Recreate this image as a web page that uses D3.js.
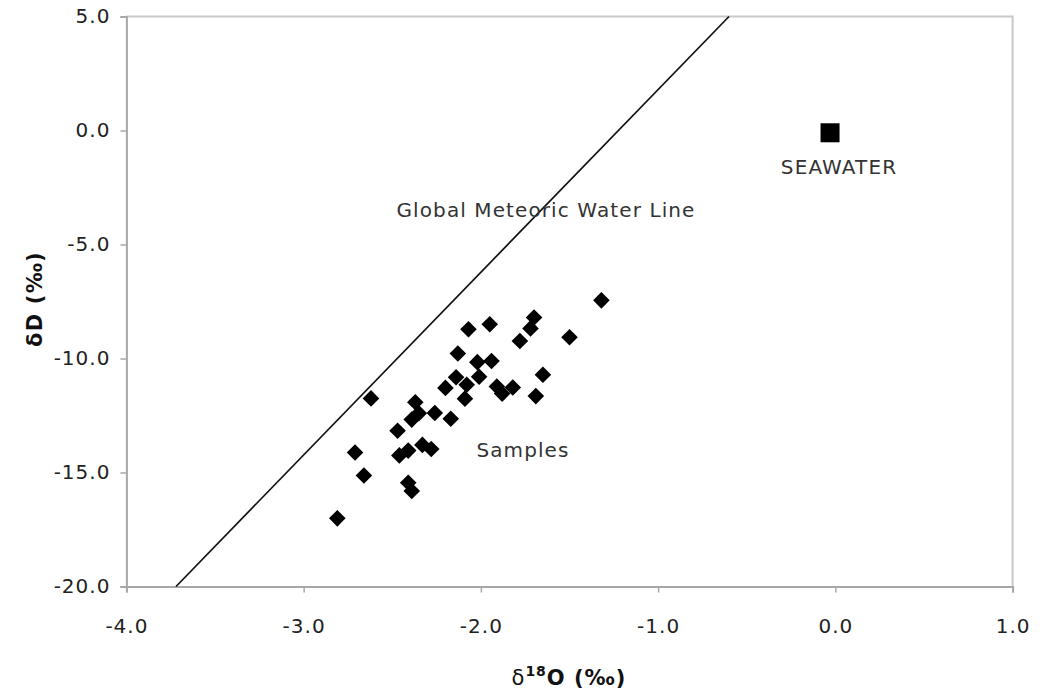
<!DOCTYPE html>
<html><head><meta charset="utf-8">
<script src="https://cdn.jsdelivr.net/npm/d3@7"></script>
<style>body{margin:0;background:#fff}svg{display:block}text{font-family:"DejaVu Sans",Verdana,sans-serif}</style>
</head><body>
<svg id="c" width="1042" height="692"></svg>
<script>
// Data
const sampleX = [-1.32,-1.70,-1.72,-1.95,-2.07,-1.50,-1.78,-2.13,-2.02,-1.94,-1.65,-2.14,-2.01,-2.08,-2.20,-1.91,-1.82,-1.88,-2.09,-1.69,-2.62,-2.37,-2.35,-2.39,-2.26,-2.17,-2.47,-2.33,-2.28,-2.41,-2.46,-2.71,-2.66,-2.41,-2.39,-2.81];
const sampleY = [-7.45,-8.20,-8.68,-8.50,-8.72,-9.07,-9.23,-9.78,-10.16,-10.11,-10.71,-10.82,-10.80,-11.15,-11.29,-11.23,-11.27,-11.54,-11.76,-11.65,-11.75,-11.92,-12.40,-12.68,-12.39,-12.64,-13.17,-13.79,-13.97,-14.04,-14.25,-14.12,-15.13,-15.45,-15.81,-17.01];
const seawaterX = [-0.03];
const seawaterY = [-0.10];
const gmwlX = [-3.72, -0.60];
const gmwlY = [-20.0, 5.0];
const xTicks = [-4, -3, -2, -1, 0, 1];
const yTicks = [5, 0, -5, -10, -15, -20];
const xDomain = [-4, 1];
const yDomain = [-20, 5];

const svg = d3.select("#c");
const L = 126.4, R = 1012.6, T = 16.5, B = 586.5;
const x = d3.scaleLinear().domain(xDomain).range([L, R]);
const y = d3.scaleLinear().domain(yDomain).range([B, T]);

// plot border (top/right)
svg.append("path")
  .attr("d", `M${L},${T}H${R}V${B}`)
  .attr("fill", "none").attr("stroke", "#c8c8c8").attr("stroke-width", 2);

const fmt = v => v.toFixed(1);
// axes
const xAxis = svg.append("g").attr("transform", `translate(0,${B})`)
  .call(d3.axisBottom(x).tickValues(xTicks).tickFormat(fmt).tickSize(6).tickPadding(33));
const yAxis = svg.append("g").attr("transform", `translate(${L},0)`)
  .call(d3.axisLeft(y).tickValues(yTicks).tickFormat(fmt).tickSize(6).tickPadding(10));
[xAxis, yAxis].forEach(g => {
  g.select(".domain").attr("stroke", "#a8a8a8").attr("stroke-width", 2);
  g.selectAll(".tick line").attr("stroke", "#a8a8a8").attr("stroke-width", 1.5);
  g.selectAll(".tick text").attr("fill", "#222").style("font-size", "20px")
    .style("letter-spacing", "1px")
    .style("font-family", '"DejaVu Sans",Verdana,sans-serif');
});
xAxis.selectAll(".tick text").attr("dy", null).attr("dominant-baseline", "central");

// GMWL line
svg.append("line")
  .attr("x1", x(gmwlX[0])).attr("y1", y(gmwlY[0]))
  .attr("x2", x(gmwlX[1])).attr("y2", y(gmwlY[1]))
  .attr("stroke", "#111").attr("stroke-width", 1.7);

// samples
const samples = sampleX.map((v, i) => [v, sampleY[i]]);
svg.append("g").selectAll("path").data(samples).join("path")
  .attr("transform", d => `translate(${x(d[0])},${y(d[1])})`)
  .attr("d", "M0,-8.3L8.3,0L0,8.3L-8.3,0Z")
  .attr("fill", "#000");

// seawater
svg.append("g").selectAll("rect").data(seawaterX.map((v, i) => [v, seawaterY[i]])).join("rect")
  .attr("x", d => x(d[0]) - 9.5).attr("y", d => y(d[1]) - 9.5)
  .attr("width", 19).attr("height", 19).attr("fill", "#000");

// annotations
const ann = (t, cx, cy) => svg.append("text").attr("x", cx).attr("y", cy)
  .attr("text-anchor", "middle").attr("dominant-baseline", "central")
  .attr("fill", "#333").style("font-size", "20px").style("letter-spacing", "1.1px").text(t);
ann("Global Meteoric Water Line", 546, 210);
ann("Samples", 523, 450);
ann("SEAWATER", 839, 167);

// axis titles
const xt = svg.append("text").attr("x", 569).attr("y", 685)
  .attr("text-anchor", "middle").attr("fill", "#111").style("font-size", "21px")
  .style("letter-spacing", "1px");
xt.append("tspan").text("δ");
xt.append("tspan").attr("font-weight", "bold").attr("dy", -9).style("font-size", "14px").text("18");
xt.append("tspan").attr("font-weight", "bold").attr("dy", 9).text("O (‰)");

svg.append("text").attr("transform", "translate(42,299) rotate(-90)")
  .attr("text-anchor", "middle").attr("fill", "#111").style("font-size", "21px")
  .style("letter-spacing", "1.2px")
  .attr("font-weight", "bold").text("δD (‰)");
</script>
</body></html>
